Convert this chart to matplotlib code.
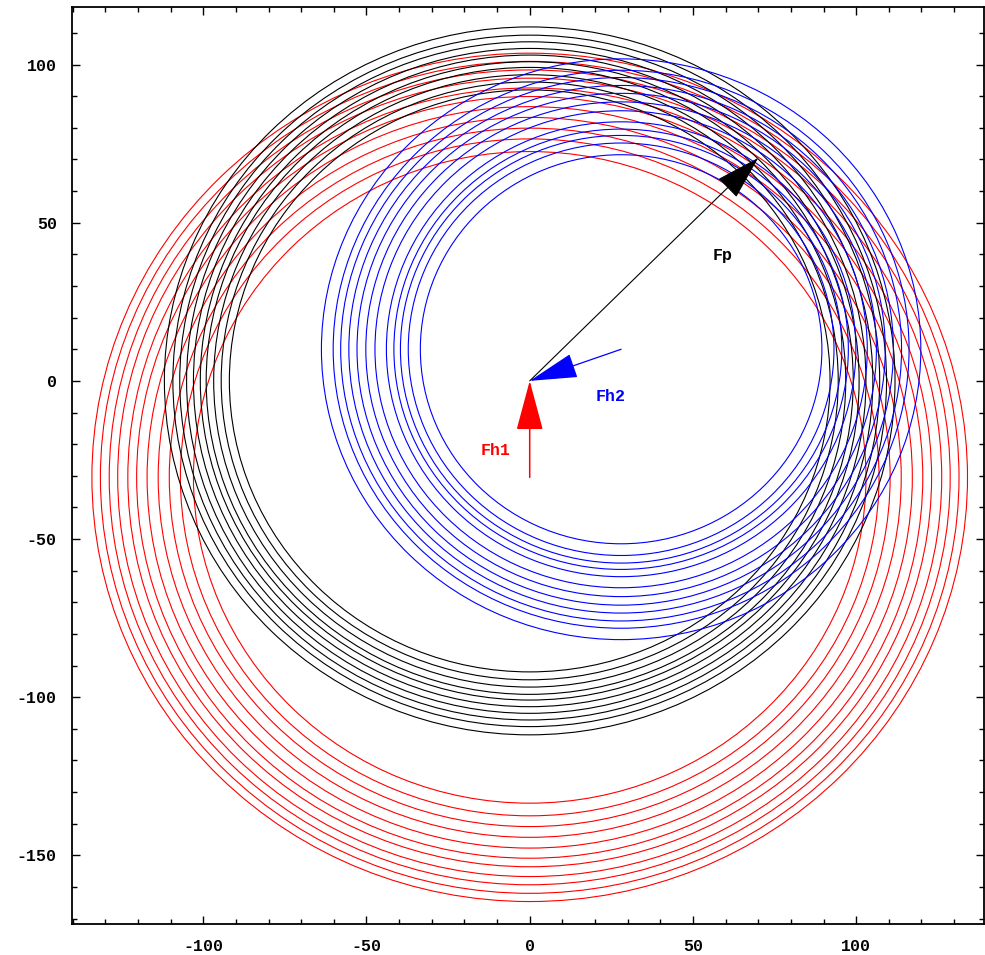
import matplotlib
matplotlib.use("Agg")
import matplotlib.pyplot as plt
from matplotlib.patches import Circle
from matplotlib.ticker import MultipleLocator

plt.rcParams['axes.unicode_minus'] = False

# circle families (centre, radii)
redCenter = (0.0, -30.5)
redRadii = [103.0, 107.0, 110.4, 113.8, 117.2, 120.4, 123.1, 126.2, 128.8, 131.5, 134.1]
blackCenter = (0.0, 0.0)
blackRadii = [92.0, 94.5, 96.8, 99.1, 100.9, 103.0, 105.1, 107.2, 109.3, 111.9]
blueCenter = (28.0, 10.0)
blueRadii = [61.5, 65.2, 67.6, 69.6, 71.9, 75.4, 78.2, 80.9, 83.4, 85.9, 88.2, 91.8]

# force vectors: tail -> tip
fh1Tail, fh1Tip = (0.0, -30.5), (0.0, 0.0)
fh2Tail, fh2Tip = (28.0, 10.0), (0.0, 0.0)
fpTail, fpTip = (0.0, 0.0), (70.0, 70.5)

# labels
labels = ["Fp", "Fh2", "Fh1"]
labelPos = [(59.1, 39.7), (24.8, -5.0), (-10.3, -22.1)]
labelColors = ["black", "blue", "red"]

xTicks = [-100, -50, 0, 50, 100]
yTicks = [-150, -100, -50, 0, 50, 100]

fig = plt.figure(figsize=(9.85, 9.55), dpi=100)
ax = fig.add_axes([72/985, 31/955, 911.5/985, 917/955])

for center, radii, col in [(redCenter, redRadii, "#ff0000"),
                           (blackCenter, blackRadii, "black"),
                           (blueCenter, blueRadii, "#0000ff")]:
    for r in radii:
        ax.add_patch(Circle(center, r, fill=False, edgecolor=col, lw=0.8))

def arrow(tail, tip, col, lw, hl, hw):
    ax.annotate("", xy=tip, xytext=tail,
                arrowprops=dict(arrowstyle="-|>,head_length=%s,head_width=%s" % (hl, hw),
                                color=col, lw=lw, shrinkA=0, shrinkB=0,
                                mutation_scale=10), zorder=5)

arrow(fh1Tail, fh1Tip, "#ff0000", 1.1, 3.2, 0.86)
arrow(fh2Tail, fh2Tip, "#0000ff", 0.9, 3.1, 0.8)
arrow(fpTail, fpTip, "black", 0.8, 2.9, 0.85)

for txt, pos, col in zip(labels, labelPos, labelColors):
    ax.text(pos[0], pos[1], txt, color=col, ha="center", va="center",
            family="Liberation Mono", fontweight="bold", fontsize=12, zorder=6)

ax.set_xlim(-140.2, 139.0)
ax.set_ylim(-171.7, 118.2)
ax.set_xticks(xTicks)
ax.set_yticks(yTicks)
ax.xaxis.set_minor_locator(MultipleLocator(10))
ax.yaxis.set_minor_locator(MultipleLocator(10))
ax.tick_params(which="both", direction="in", top=True, right=True, width=1.0)
ax.tick_params(which="major", length=6, pad=11)
ax.tick_params(which="minor", length=3.5)
for lab in ax.get_xticklabels() + ax.get_yticklabels():
    lab.set_family("Liberation Mono")
    lab.set_fontweight("bold")
    lab.set_fontsize(12)
for s in ax.spines.values():
    s.set_linewidth(1.3)

fig.savefig("out.png", dpi=100)
